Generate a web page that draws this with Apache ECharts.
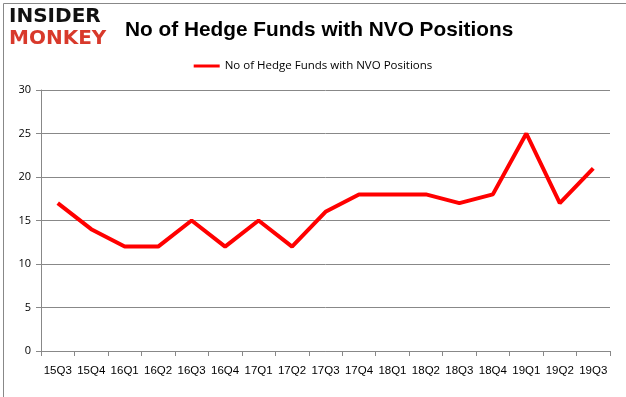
<!DOCTYPE html>
<html><head><meta charset="utf-8">
<script src="https://cdn.jsdelivr.net/npm/echarts@6/dist/echarts.min.js"></script>
<style>html,body{margin:0;padding:0;background:#fff}#c{width:626px;height:397px}</style>
</head><body><div id="c"></div>
<script>
const categories = ['15Q3','15Q4','16Q1','16Q2','16Q3','16Q4','17Q1','17Q2','17Q3','17Q4','18Q1','18Q2','18Q3','18Q4','19Q1','19Q2','19Q3'];
const hedgeFunds = [17,14,12,12,15,12,15,12,16,18,18,18,17,18,25,17,21];
const seriesName = 'No of Hedge Funds with NVO Positions';
const titleText = 'No of Hedge Funds with NVO Positions';

const chart = echarts.init(document.getElementById('c'), null, {renderer:'canvas'});
chart.setOption({
  animation:false,
  backgroundColor:'#fff',
  title:{text:titleText,left:120,top:15,
    textStyle:{fontFamily:'Liberation Sans',fontWeight:'bold',fontSize:20.8,color:'#000'}},
  legend:{top:55,left:'center',itemWidth:26,itemHeight:3,icon:'rect',
    textStyle:{fontFamily:'Open Sans',fontSize:11.5,color:'#000'},
    data:[seriesName]},
  grid:{left:41,right:16,top:90,bottom:46,containLabel:false},
  xAxis:{type:'category',data:categories,boundaryGap:true,
    axisLine:{lineStyle:{color:'#888',width:1}},
    axisTick:{show:true,length:5,lineStyle:{color:'#888'}},
    axisLabel:{color:'#000',fontFamily:'Liberation Sans',fontSize:11.5,margin:14,interval:0}},
  yAxis:{type:'value',min:0,max:30,interval:5,
    axisLine:{show:true,lineStyle:{color:'#888'}},
    axisTick:{show:true,length:5,lineStyle:{color:'#888'}},
    splitLine:{lineStyle:{color:'#888',width:1}},
    axisLabel:{color:'#000',fontFamily:'Open Sans',fontSize:11,margin:10}},
  series:[{name:seriesName,type:'line',data:hedgeFunds,symbol:'none',
    lineStyle:{color:'#ff0000',width:4},itemStyle:{color:'#ff0000'}}],
  graphic:[
    {type:'rect',left:1,top:1,shape:{width:623,height:394},style:{fill:'none',stroke:'#888',lineWidth:1}},
    {type:'text',left:9,top:7,style:{text:'INSIDER',fontFamily:'DejaVu Sans',fontWeight:'bold',fontSize:20,fill:'#111'}},
    {type:'text',left:9,top:29,style:{text:'MONKEY',fontFamily:'DejaVu Sans',fontWeight:'bold',fontSize:20,fill:'#d8392b'}}
  ]
});
</script></body></html>
